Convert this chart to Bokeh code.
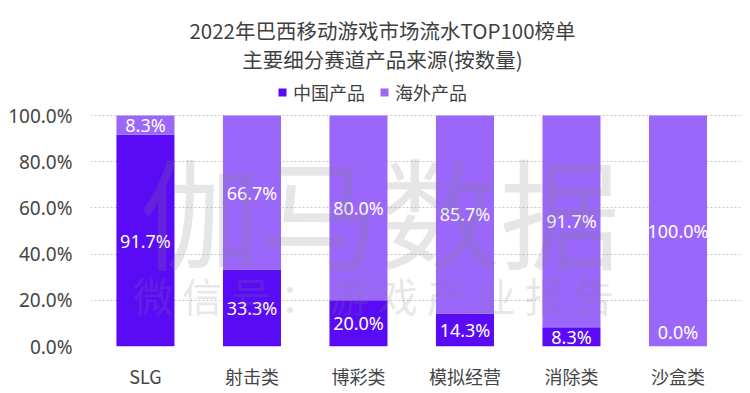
from bokeh.plotting import figure
from bokeh.models import (Range1d, FixedTicker, PrintfTickFormatter, Label, Legend,
                          LegendItem, ColumnDataSource)
from bokeh.embed import file_html
from bokeh.resources import INLINE

categories = ["SLG", "射击类", "博彩类", "模拟经营", "消除类", "沙盒类"]
china = [91.7, 33.3, 20.0, 14.3, 8.3, 0.0]
overseas = [8.3, 66.7, 80.0, 85.7, 91.7, 100.0]
y_ticks = [0, 20, 40, 60, 80, 100]

title_1 = "2022年巴西移动游戏市场流水TOP100榜单"
title_2 = "主要细分赛道产品来源(按数量)"
series_names = ["中国产品", "海外产品"]
colors = ["#5A0BF5", "#9B67FA"]

CJK = "Noto Sans CJK SC"
NUM = "Noto Sans"

xs = list(range(len(categories)))
src = ColumnDataSource(dict(x=xs, china=china, overseas=overseas))

# the frame extends up to the canvas top so that the title and legend can sit inside it;
# 100% still falls at the same height as in the reference
p = figure(width=750, height=393, output_backend="svg", toolbar_location=None, title=None,
           x_range=Range1d(-0.516, 5.587), y_range=Range1d(0, 149.8),
           min_border_left=90, min_border_right=10, min_border_top=0, min_border_bottom=47)
p.outline_line_color = None

rs = p.vbar_stack(["china", "overseas"], x="x", width=0.545, source=src,
                  color=colors, line_color=None)

# labels
china_bottom = [0.0] * len(china)
china_mid = [c / 2 for c in china]
over_mid = [c + o / 2 for c, o in zip(china, overseas)]
nz = [i for i in xs if china[i] > 0]
z = [i for i in xs if china[i] == 0]
p.text(x=[xs[i] for i in nz], y=[china_mid[i] for i in nz],
       text=[f"{china[i]:.1f}%" for i in nz], text_align="center", text_baseline="middle",
       text_color="white", text_font_size="18px", text_font={"value": NUM})
p.text(x=[xs[i] for i in z], y=[china_bottom[i] for i in z],
       text=[f"{china[i]:.1f}%" for i in z], text_align="center", text_baseline="bottom",
       y_offset=-3, text_color="white", text_font_size="18px", text_font={"value": NUM})
p.text(x=xs, y=over_mid, text=[f"{o:.1f}%" for o in overseas], text_align="center",
       text_baseline="middle", text_color="white", text_font_size="18px",
       text_font={"value": NUM})

# axes
p.yaxis.ticker = FixedTicker(ticks=y_ticks)
p.yaxis.formatter = PrintfTickFormatter(format="%.1f%%")
p.yaxis.major_label_text_font = NUM
p.yaxis.major_label_text_font_size = "19px"
p.yaxis.major_label_text_color = "#454545"
p.yaxis.major_label_standoff = 18
p.xaxis.ticker = FixedTicker(ticks=xs)
p.xaxis.major_label_overrides = {i: c for i, c in enumerate(categories)}
p.xaxis.major_label_text_font = CJK
p.xaxis.major_label_text_font_size = "18px"
p.xaxis.major_label_text_color = "#454545"
p.xaxis.major_label_standoff = 16
for ax in (p.xaxis, p.yaxis):
    ax.axis_line_color = None
    ax.major_tick_line_color = None
    ax.minor_tick_line_color = None
    ax.major_tick_out = 0
    ax.major_tick_in = 0
    ax.minor_tick_out = 0
    ax.minor_tick_in = 0
p.xgrid.grid_line_color = None
p.ygrid.grid_line_color = "#c8c8c8"
p.ygrid.grid_line_dash = "2 2"
p.ygrid.ticker = FixedTicker(ticks=y_ticks)

# titles
p.add_layout(Label(x=292, y=317, x_units="screen", y_units="screen", text=title_1,
                   text_align="center", text_baseline="middle", text_font=CJK,
                   text_font_size="20.5px", text_color="#3f3f3f"))
p.add_layout(Label(x=292, y=288, x_units="screen", y_units="screen", text=title_2,
                   text_align="center", text_baseline="middle", text_font=CJK,
                   text_font_size="20.5px", text_color="#3f3f3f"))

# legend
legend = Legend(items=[LegendItem(label=n, renderers=[r]) for n, r in zip(series_names, rs)],
                location=(187, 241), orientation="horizontal", border_line_color=None,
                background_fill_alpha=0, padding=0, margin=0, spacing=14,
                glyph_width=10, glyph_height=10, label_standoff=6,
                label_text_font=CJK, label_text_font_size="18px", label_text_color="#3f3f3f")
p.add_layout(legend, "center")

# watermark
p.add_layout(Label(x=2.2, y=59.7, text="伽马数据", text_align="center", text_baseline="middle",
                   text_font=CJK, text_font_size="120px", text_color="#808080", text_alpha=0.2))
p.add_layout(Label(x=2.14, y=22.1, text="微 信 号 ： 游 戏 产 业 报 告", text_align="center",
                   text_baseline="middle", text_font=CJK, text_font_size="40px",
                   text_color="#808080", text_alpha=0.2))

open("out.html", "w").write(file_html(p, INLINE))
